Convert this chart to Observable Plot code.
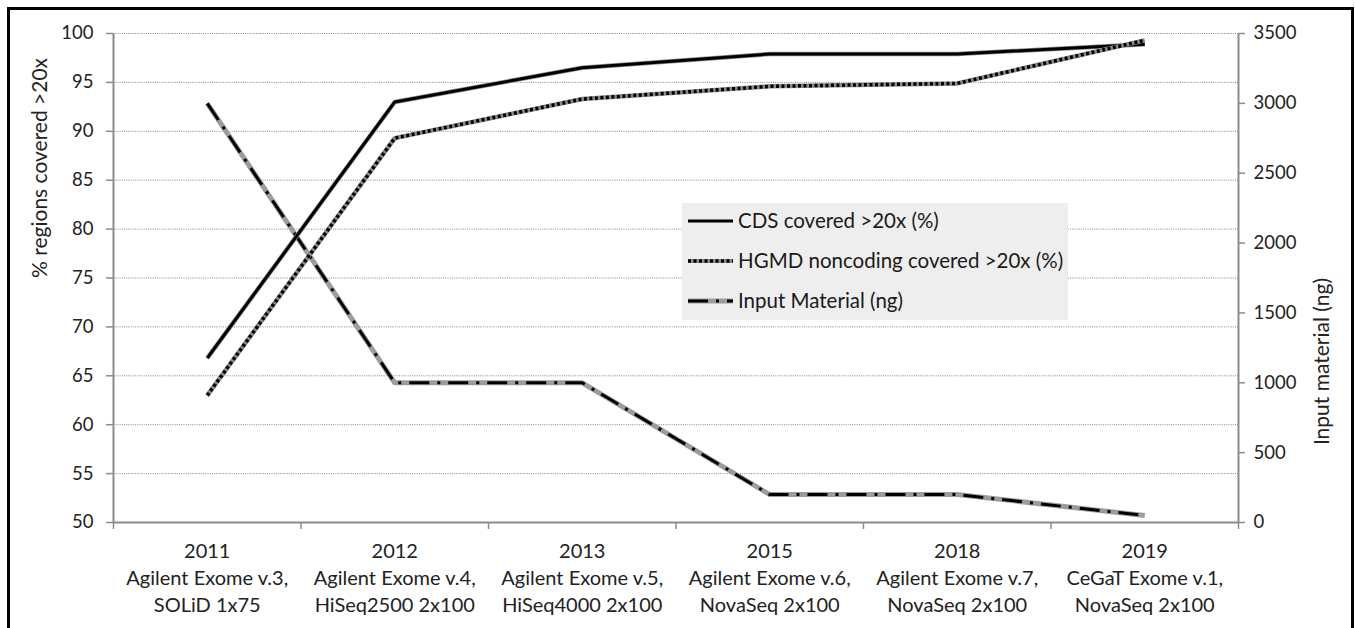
<!DOCTYPE html>
<html>
<head>
<meta charset="utf-8">
<script src="https://cdn.jsdelivr.net/npm/d3@7"></script>
<script src="https://cdn.jsdelivr.net/npm/@observablehq/plot@0.6"></script>
<style>
  html, body { margin: 0; padding: 0; background: #fff; overflow: hidden; }
  body { width: 1355px; height: 628px; position: relative; font-family: Lato, "Open Sans", sans-serif; }
  #frame { position: absolute; left: 7px; top: 7px; width: 1341px; height: 660px; border: 3px solid #000; border-bottom: none; pointer-events: none; }
  #chart { position: absolute; left: 0; top: 0; }
  #legend { position: absolute; left: 682px; top: 203px; width: 386px; height: 117px; background: #eeeeee; }
  #legend text { font-family: Lato, sans-serif; font-size: 20.5px; fill: #1a1a1a; }
</style>
</head>
<body>
<div id="chart"></div>
<div id="legend"></div>
<div id="frame"></div>
<script>
// ---- data ----
const categories = ["2011", "2012", "2013", "2015", "2018", "2019"];
const platformLine1 = ["Agilent Exome v.3,", "Agilent Exome v.4,", "Agilent Exome v.5,", "Agilent Exome v.6,", "Agilent Exome v.7,", "CeGaT Exome v.1,"];
const platformLine2 = ["SOLiD 1x75", "HiSeq2500 2x100", "HiSeq4000 2x100", "NovaSeq 2x100", "NovaSeq 2x100", "NovaSeq 2x100"];
const cdsCovered = [66.8, 93.0, 96.5, 97.9, 97.9, 98.9];
const hgmdCovered = [63.0, 89.3, 93.3, 94.6, 94.9, 99.3];
const inputMaterial = [3000, 1000, 1000, 200, 200, 50];
const leftTicks = [50, 55, 60, 65, 70, 75, 80, 85, 90, 95, 100];
const rightTicks = [0, 500, 1000, 1500, 2000, 2500, 3000, 3500];
const seriesNames = ["CDS covered >20x (%)", "HGMD noncoding covered >20x (%)", "Input Material (ng)"];

// right axis (0–3500 ng) mapped onto left domain (50–100 %)
const rightMax = 3500, leftMin = 50, leftMax = 100;
const toLeft = v => leftMin + v / rightMax * (leftMax - leftMin);
const fromLeft = y => (y - leftMin) / (leftMax - leftMin) * rightMax;

const rows = categories.map((c, i) => ({
  i, cat: c, cds: cdsCovered[i], hgmd: hgmdCovered[i], input: toLeft(inputMaterial[i])
}));
const idx = categories.map((_, i) => i);
const bounds = d3.range(categories.length + 1).map(i => i - 0.5);

const axisColor = "#8c8c8c";
const textColor = "#222";
const butt = { strokeLinecap: "butt", strokeLinejoin: "round" };

const chart = Plot.plot({
  width: 1355,
  height: 628,
  marginLeft: 113,
  marginRight: 117,
  marginTop: 33,
  marginBottom: 106,
  style: { fontFamily: "Lato, 'Open Sans', sans-serif", color: textColor, background: "transparent" },
  x: { type: "linear", domain: [-0.5, categories.length - 0.5], axis: null },
  y: { type: "linear", domain: [leftMin, leftMax], axis: null },
  marks: [
    // gridlines
    Plot.ruleY(leftTicks.filter(t => t > leftMin), { stroke: "#888", strokeWidth: 1, strokeDasharray: "1,1.2", strokeLinecap: "butt" }),
    // left axis ticks & labels
    Plot.axisY(leftTicks, { anchor: "left", tickSize: 7, tickPadding: 13, fontSize: 18.5, stroke: axisColor, strokeWidth: 1.5, color: textColor, label: null }),
    // right axis ticks & labels
    Plot.axisY(rightTicks.map(toLeft), { anchor: "right", tickSize: 6, tickPadding: 9, fontSize: 18.5, stroke: axisColor, strokeWidth: 1.5, tickFormat: d => String(Math.round(fromLeft(d))), label: null }),
    // x tick marks at category boundaries
    Plot.axisX(bounds, { anchor: "bottom", tickSize: 7, tickFormat: () => "", stroke: axisColor, strokeWidth: 1.5, label: null }),
    // x labels
    Plot.axisX(idx, { anchor: "bottom", tickSize: 0, tickPadding: 16, fontSize: 20, lineHeight: 1.36, fill: textColor,
      tickFormat: i => categories[i] + "\n" + platformLine1[i] + "\n" + platformLine2[i], label: null }),
    // axis lines
    Plot.ruleX([-0.5], { stroke: axisColor, strokeWidth: 2 }),
    Plot.ruleX([categories.length - 0.5], { stroke: axisColor, strokeWidth: 2 }),
    Plot.ruleY([leftMin], { stroke: axisColor, strokeWidth: 2 }),
    // axis titles
    Plot.text(["% regions covered >20x"], { frameAnchor: "left", dx: -73, rotate: -90, fontSize: 21, fill: textColor }),
    Plot.text(["Input material (ng)"], { frameAnchor: "right", dx: 84, rotate: -90, fontSize: 21, fill: textColor }),
    // Input Material line
    Plot.line(rows, { x: "i", y: "input", stroke: "#9c9c9c", strokeWidth: 5, ...butt }),
    Plot.line(rows, { x: "i", y: "input", stroke: "#000", strokeWidth: 3, strokeDasharray: "20,8,3,8", ...butt }),
    // CDS line
    Plot.line(rows, { x: "i", y: "cds", stroke: "#8a8a8a", strokeWidth: 4.5, ...butt }),
    Plot.line(rows, { x: "i", y: "cds", stroke: "#000", strokeWidth: 3, ...butt }),
    // HGMD line
    Plot.line(rows, { x: "i", y: "hgmd", stroke: "#8a8a8a", strokeWidth: 4.5, ...butt }),
    Plot.line(rows, { x: "i", y: "hgmd", stroke: "#000", strokeWidth: 3.5, strokeDasharray: "3,2.5", ...butt })
  ]
});
document.getElementById("chart").appendChild(chart);

// legend
const leg = d3.select("#legend").append("svg").attr("width", 386).attr("height", 117);
const rowY = [18, 58, 98];
const styles = [
  [{ stroke: "#000", w: 3, dash: null }],
  [{ stroke: "#8a8a8a", w: 4, dash: null }, { stroke: "#000", w: 3.5, dash: "3,2.5" }],
  [{ stroke: "#9c9c9c", w: 5, dash: null }, { stroke: "#000", w: 3, dash: "20,8,3,8" }]
];
seriesNames.forEach((name, k) => {
  styles[k].forEach(s => {
    const l = leg.append("line").attr("x1", 6).attr("x2", 51).attr("y1", rowY[k]).attr("y2", rowY[k])
      .attr("stroke", s.stroke).attr("stroke-width", s.w).attr("stroke-linecap", "butt");
    if (s.dash) l.attr("stroke-dasharray", s.dash);
  });
  leg.append("text").attr("x", 56).attr("y", rowY[k]).attr("dy", "0.35em").text(name);
});
</script>
</body>
</html>
